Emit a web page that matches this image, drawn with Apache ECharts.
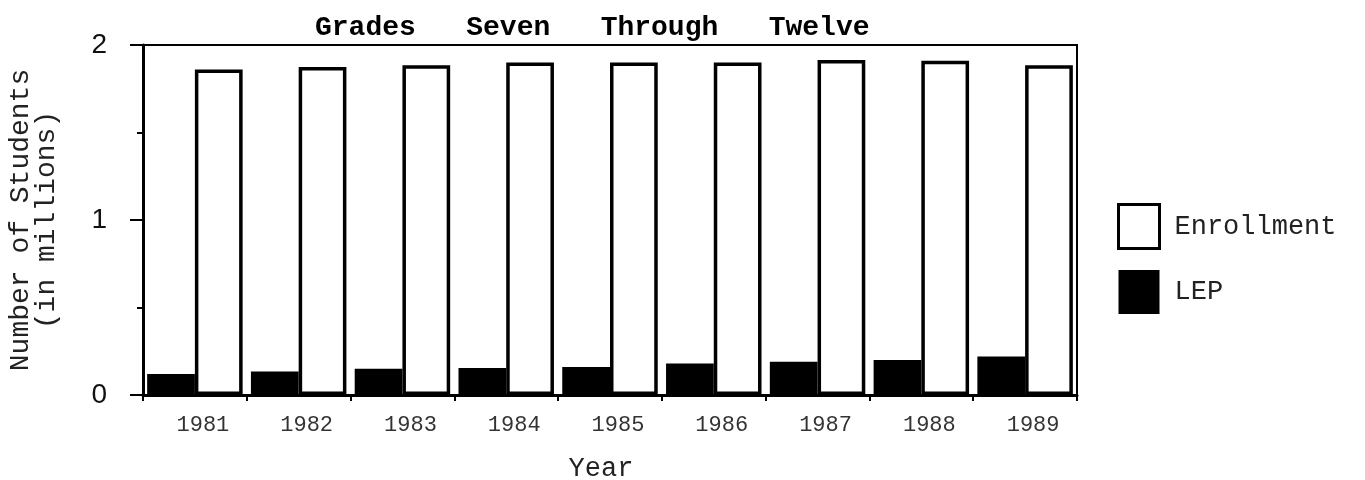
<!DOCTYPE html>
<html><head><meta charset="utf-8">
<script src="https://cdn.jsdelivr.net/npm/echarts@6/dist/echarts.min.js"></script>
<style>html,body{margin:0;padding:0;background:#fff}#c{width:1365px;height:480px}</style>
</head><body><div id="c"></div>
<script>
const years = ['1981', '1982', '1983', '1984', '1985', '1986', '1987', '1988', '1989'];
const enrollment = [1.86, 1.875, 1.885, 1.9, 1.9, 1.9, 1.915, 1.91, 1.885];
const lep = [0.12, 0.135, 0.15, 0.155, 0.16, 0.18, 0.19, 0.2, 0.22];
const titleText = 'Grades   Seven   Through   Twelve';
const yName = 'Number of Students\n(in millions)';
const xName = 'Year';

const chart = echarts.init(document.getElementById('c'));
chart.setOption({
  backgroundColor: '#fff',
  animation: false,
  title: {
    text: titleText,
    left: 315, top: 14, padding: 0,
    textStyle: { fontFamily: 'Liberation Mono', fontWeight: 'bold', fontSize: 28, color: '#000' }
  },
  legend: {
    orient: 'vertical', left: 1117, top: 203, padding: 0,
    itemWidth: 41, itemHeight: 44, itemGap: 20,
    icon: 'rect',
    data: [
      { name: 'Enrollment', itemStyle: { color: '#fff', borderColor: '#000', borderWidth: 3 } },
      { name: 'LEP', itemStyle: { color: '#000' } }
    ],
    textStyle: { fontFamily: 'Liberation Mono', fontSize: 27, color: '#222', padding: [0, 0, 0, 10] }
  },
  grid: {
    left: 143, right: 288, top: 45, bottom: 85,
    outerBoundsMode: 'none', containLabel: false,
    show: true, borderColor: '#000', borderWidth: 2, backgroundColor: 'transparent'
  },
  xAxis: {
    type: 'category', data: years,
    name: xName, nameLocation: 'middle', nameGap: 60,
    nameTextStyle: { fontFamily: 'Liberation Mono', fontSize: 27, color: '#222', padding: [0, 18, 0, 0] },
    axisLine: { lineStyle: { color: '#000', width: 3 } },
    axisTick: { show: true, length: 6, lineStyle: { color: '#000', width: 2 } },
    axisLabel: { fontFamily: 'Liberation Mono', fontSize: 22, color: '#333', margin: 19, padding: [0, 0, 0, 16] }
  },
  yAxis: {
    type: 'value', min: 0, max: 2, interval: 1,
    name: yName, nameLocation: 'middle', nameGap: 83,
    nameTextStyle: { fontFamily: 'Liberation Mono', fontSize: 28, lineHeight: 26, color: '#222', align: 'center' },
    axisLine: { show: true, lineStyle: { color: '#000', width: 3 } },
    axisTick: { show: true, length: 13, lineStyle: { color: '#000', width: 2 } },
    minorTick: { show: true, splitNumber: 2, length: 6, lineStyle: { color: '#000', width: 2 } },
    splitLine: { show: false },
    axisLabel: { fontFamily: 'Liberation Sans', fontSize: 28, color: '#111', margin: 36 }
  },
  series: [
    {
      name: 'LEP', type: 'bar', data: lep,
      barGap: '0%', barCategoryGap: '8%',
      itemStyle: { color: '#000' }
    },
    {
      name: 'Enrollment', type: 'bar', data: enrollment,
      barGap: '0%', barCategoryGap: '8%',
      itemStyle: { color: '#fff', borderColor: '#000', borderWidth: 3.5 }
    }
  ]
});
</script>
</body></html>
